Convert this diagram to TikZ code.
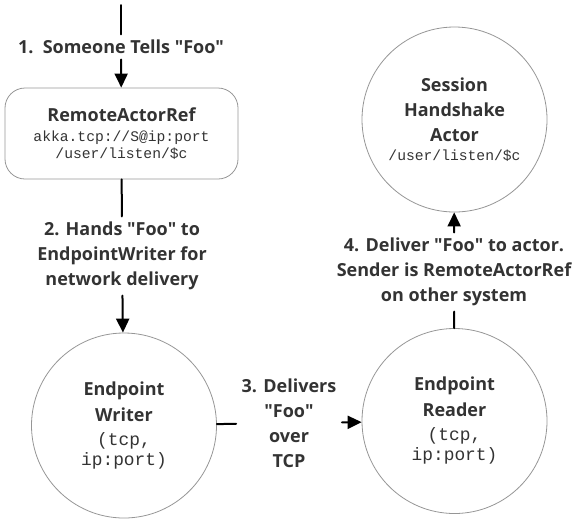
\documentclass[tikz,border=0pt]{standalone}
\usepackage{fontspec}
\setmainfont{Open Sans}
\setmonofont{Liberation Mono}
\usetikzlibrary{arrows.meta}
\definecolor{txtgray}{RGB}{51,51,51}
\definecolor{rimgray}{RGB}{150,150,150}
\newcommand{\codefont}{\fontsize{11}{12.75}\selectfont\ttfamily\mdseries}
\newcommand{\bigcodefont}{\fontsize{13.4}{15}\selectfont\ttfamily\mdseries}
\newcommand{\foo}{\textquotedbl Foo\textquotedbl}

\begin{document}
\begin{tikzpicture}[line cap=round,line join=round,>={Triangle[width=9.75pt,length=10.5pt]},x=0.75pt,y=-0.75pt,
    actor/.style={circle,draw=rimgray,line width=0.6pt,minimum size=138.75pt,inner sep=0pt,align=center,text=txtgray,font=\fontsize{13.5}{19.5}\selectfont\bfseries},
    refbox/.style={rectangle,rounded corners=15pt,draw=rimgray,line width=0.6pt,minimum width=174.75pt,minimum height=68.25pt,align=center,text=txtgray,font=\fontsize{13.5}{15}\selectfont\bfseries},
    msg/.style={align=center,inner sep=4pt,text=txtgray,font=\fontsize{13.5}{18.75}\selectfont\bfseries},
    flow/.style={line width=1.5pt}]
    \useasboundingbox (0,0) rectangle (577,522);
    % actors
    \node[refbox] (remote) at (121.5,133.5) {RemoteActorRef\\ {\codefont akka.tcp://S@ip:port}\\[-2.25pt] {\codefont /user/listen/\$c}};
    \node[actor] (writer) at (124,425.5) {Endpoint\\ Writer\\[-1.5pt] {\bigcodefont (tcp,}\\[-4.5pt] {\bigcodefont ip:port)}};
    \node[actor] (reader) at (454.5,421) {Endpoint\\ Reader\\[-1.5pt] {\bigcodefont (tcp,}\\[-4.5pt] {\bigcodefont ip:port)}};
    \node[actor] (session) at (454.5,119.5) {Session\\[-0.75pt] Handshake\\[-0.75pt] Actor\\[-5.25pt] {\codefont /user/listen/\$c}};
    % messages
    \coordinate (start) at (121,5);
    \node[msg] (tell) at (121,47) {1.\ \ Someone Tells \foo};
    \node[msg] (hand) at (122,256) {2. Hands \foo{} to\\ EndpointWriter for\\ network delivery};
    \node[msg] (tcp) at (289,423) {3. Delivers\\ \foo\\ over\\ TCP};
    \node[msg] (deliver) at (454,272) {4. Deliver \foo{} to actor.\\ Sender is RemoteActorRef\\ on other system};
    % flow
    \draw[flow] (start) -- (tell);
    \draw[flow,->] (tell) -- (remote);
    \draw[flow] (remote) -- (hand);
    \draw[flow,->] (hand) -- (writer);
    \draw[flow] (writer) -- (tcp);
    \draw[flow,->] (tcp) -- (reader);
    \draw[flow] (reader) -- (deliver);
    \draw[flow,->] (deliver) -- (session);
\end{tikzpicture}
\end{document}
